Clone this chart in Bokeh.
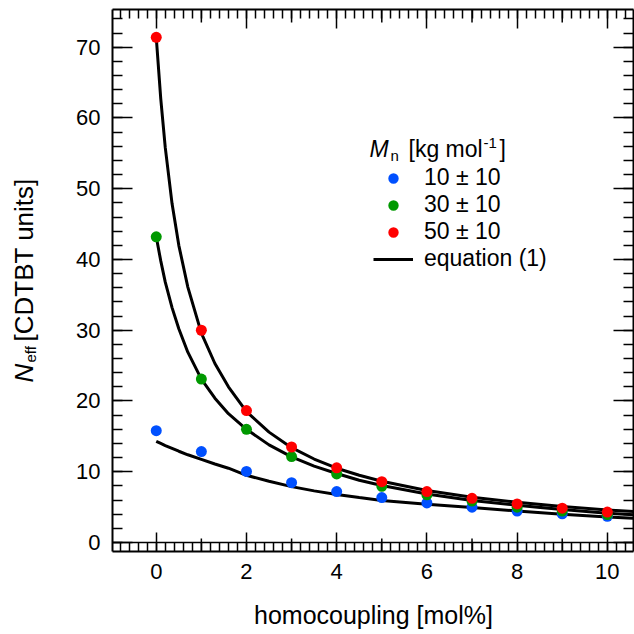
import math
from bokeh.plotting import figure
from bokeh.models import (Range1d, LinearAxis, FixedTicker, Legend, LegendItem, Label,
                          CustomLabelingPolicy)
from bokeh.embed import file_html
from bokeh.resources import INLINE

# ---- data ----
homocoupling = [0, 1, 2, 3, 4, 5, 6, 7, 8, 9, 10]
neff_10 = [15.8, 12.85, 10.05, 8.45, 7.2, 6.35, 5.6, 5.0, 4.45, 4.05, 3.7]
neff_30 = [43.2, 23.1, 16.0, 12.15, 9.7, 7.95, 6.75, 5.85, 5.0, 4.45, 3.95]
neff_50 = [71.4, 30.0, 18.65, 13.5, 10.55, 8.6, 7.2, 6.25, 5.45, 4.85, 4.3]

curve_x = [0, 0.1, 0.2, 0.35, 0.5, 0.7, 1, 1.3, 1.6, 2, 2.5, 3, 3.5, 4, 4.5, 5, 6, 7, 8, 9, 10, 10.58]
eq_50 = [71.4, 62.7, 55.8, 47.9, 42.0, 36.1, 29.6, 25.3, 22.0, 18.5, 15.6, 13.4, 11.8, 10.5, 9.5, 8.65, 7.35, 6.4, 5.7, 5.1, 4.6, 4.37]
eq_30 = [43.2, 39.8, 36.8, 33.2, 30.2, 26.9, 23.1, 20.4, 18.2, 16.0, 13.8, 12.1, 10.8, 9.75, 8.8, 8.05, 6.85, 5.95, 5.25, 4.65, 4.15, 3.93]
eq_10 = [14.3, 14.0, 13.7, 13.3, 12.9, 12.4, 11.75, 11.1, 10.5, 9.5, 8.65, 7.9, 7.3, 6.8, 6.35, 5.95, 5.4, 4.95, 4.45, 4.0, 3.6, 3.43]

legend_labels = ["10 \u00b1 10", "30 \u00b1 10", "50 \u00b1 10", "equation (1)"]
colors = ["#0050ff", "#009900", "#ff0000"]

x_major = [0, 2, 4, 6, 8, 10]
x_mid = [1, 3, 5, 7, 9]
x_minor = [round(-0.8 + 0.2 * i, 2) for i in range(57)]
y_major = [0, 10, 20, 30, 40, 50, 60, 70]
y_minor = list(range(0, 76, 2))

# ---- geometry (canvas pixels) ----
W = H = 634
X0, X1 = -0.97, 10.58          # data limits of the axes box
Y0, Y1 = -1.27, 75.33
FL, FR, FT, FB = 112, 633, 9, 551   # box edges in pixels
PPX = (FR - FL) / (X1 - X0)
PPY = (FB - FT) / (Y1 - Y0)
BASE = 0.36   # offset between Label anchor and drawn baseline, in em


def px_x(px):
    return X0 + (px - FL) / PPX


def px_y(py):
    return Y0 + (FB - py) / PPY


FONT = "Liberation Sans"

p = figure(width=W, height=H, output_backend="svg", toolbar_location=None,
           x_range=Range1d(px_x(0), px_x(W)), y_range=Range1d(px_y(H), px_y(0)),
           min_border=0, min_border_left=0, min_border_right=0,
           min_border_top=0, min_border_bottom=0)
p.xgrid.visible = False
p.ygrid.visible = False
p.outline_line_color = None
p.background_fill_color = "white"
p.border_fill_color = "white"

no_labels = CustomLabelingPolicy(code="return new Set()")


def style_axis(ax, ticks, minor, major_len, minor_len, loc, bounds, labels=True):
    ax.fixed_location = loc
    ax.bounds = bounds
    ax.ticker = FixedTicker(ticks=ticks, minor_ticks=minor)
    ax.major_tick_in = major_len
    ax.major_tick_out = 0
    ax.minor_tick_in = minor_len
    ax.minor_tick_out = 0
    ax.major_tick_line_color = "black"
    ax.minor_tick_line_color = "black"
    ax.major_tick_line_width = 1.5
    ax.minor_tick_line_width = 1.5
    ax.axis_line_color = "black"
    ax.axis_line_width = 2
    ax.axis_label = None
    if labels:
        ax.major_label_text_font = FONT
        ax.major_label_text_font_size = "22px"
        ax.major_label_text_color = "black"
    else:
        ax.major_label_policy = no_labels


bottom = p.xaxis[0]
style_axis(bottom, x_major, x_minor, 19, 9, Y0, (X0, X1))
bottom.major_label_standoff = 12
left = p.yaxis[0]
style_axis(left, y_major, y_minor, 20, 10, X0, (Y0, Y1))
left.major_label_standoff = 12

top_ax = LinearAxis()
style_axis(top_ax, x_major, x_minor, 19, 9, Y1, (X0, X1), labels=False)
p.add_layout(top_ax, "above")
right_ax = LinearAxis()
style_axis(right_ax, y_major, y_minor, 20, 10, X1, (Y0, Y1), labels=False)
p.add_layout(right_ax, "right")

# zero line (an axis without ticks at y = 0)
zero_ax = LinearAxis()
style_axis(zero_ax, [], [], 0, 0, 0, (X0, X1), labels=False)
zero_ax.axis_line_width = 1.5
p.add_layout(zero_ax, "below")

# medium ticks at odd integers (bottom and top)
tick_h = 13 / PPY
p.segment(x0=x_mid, x1=x_mid, y0=[Y0] * len(x_mid), y1=[Y0 + tick_h] * len(x_mid),
          line_color="black", line_width=1.5)
p.segment(x0=x_mid, x1=x_mid, y0=[Y1] * len(x_mid), y1=[Y1 - tick_h] * len(x_mid),
          line_color="black", line_width=1.5)

# curves
l50 = p.line(curve_x, eq_50, line_color="black", line_width=3)
l30 = p.line(curve_x, eq_30, line_color="black", line_width=3)
l10 = p.line(curve_x, eq_10, line_color="black", line_width=3)

# points
r10 = p.scatter(homocoupling, neff_10, size=11, fill_color=colors[0], line_color=None)
r30 = p.scatter(homocoupling, neff_30, size=11, fill_color=colors[1], line_color=None)
r50 = p.scatter(homocoupling, neff_50, size=11, fill_color=colors[2], line_color=None)

legend = Legend(items=[LegendItem(label=legend_labels[0], renderers=[r10]),
                       LegendItem(label=legend_labels[1], renderers=[r30]),
                       LegendItem(label=legend_labels[2], renderers=[r50]),
                       LegendItem(label=legend_labels[3], renderers=[l50])],
                location=(373, H - 272))
legend.label_text_font = FONT
legend.label_text_font_size = "23px"
legend.label_text_color = "black"
legend.glyph_width = 40
legend.glyph_height = 26
legend.label_height = 26
legend.label_standoff = 11
legend.spacing = 0
legend.padding = 0
legend.margin = 0
legend.border_line_alpha = 0
legend.background_fill_alpha = 0
p.add_layout(legend, "center")


def lab(text, px, py, size, style="normal", rotated=False, align="left"):
    # px, py: start of the drawn baseline in canvas pixels
    off = BASE * size
    if rotated:
        x, y, ang = px_x(px - off), px_y(py), math.pi / 2
    else:
        x, y, ang = px_x(px), px_y(py - off), 0.0
    p.add_layout(Label(x=x, y=y, text=text, text_font=FONT,
                       text_font_size=f"{size}px", text_font_style=style, text_color="black",
                       text_align=align, text_baseline="alphabetic", angle=ang))


# legend title: M_n [kg mol^-1]
lab("M", 369, 157, 23, "italic")
lab("n", 390, 160, 15)
lab("[kg mol", 408, 157, 23)
lab("-1", 483, 148, 15)
lab("]", 499, 157, 23)

# y-axis label: N_eff [CDTBT units]
lab("N", 33, 382, 26, "italic", rotated=True)
lab("eff", 35, 362, 15, rotated=True)
lab("[CDTBT units]", 33, 341, 26, rotated=True)

# x-axis label
lab("homocoupling [mol%]", 373, 623, 25, align="center")

open("out.html", "w").write(file_html(p, INLINE))
